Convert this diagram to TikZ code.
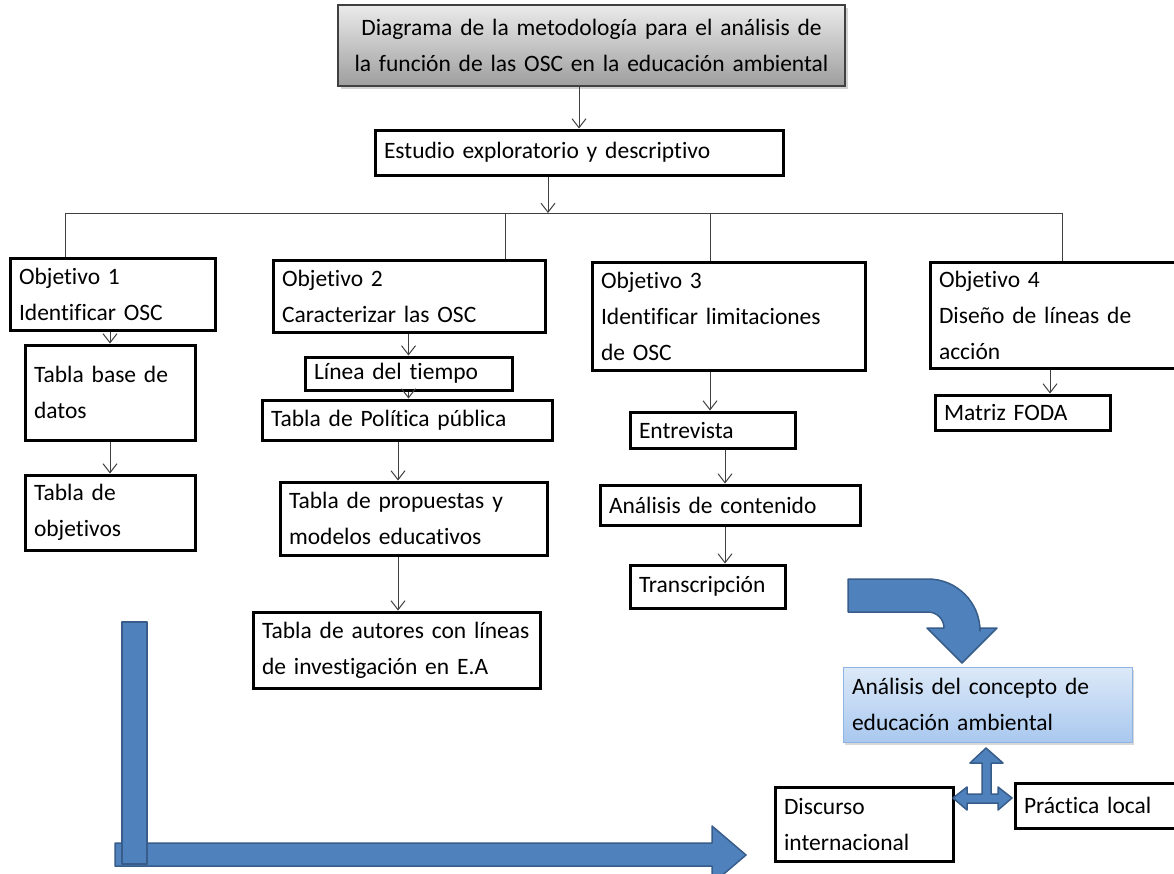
\documentclass[tikz,border=0pt]{standalone}
\usepackage{fontspec}
\setmainfont{Carlito}[Ligatures={NoCommon,NoContextual},RawFeature={-liga;-clig}]
\usetikzlibrary{arrows.meta,shadows,calc}
\definecolor{bluefill}{HTML}{4F81BD}
\definecolor{blueline}{HTML}{385D8A}
\definecolor{lightA}{HTML}{DCE9F8}
\definecolor{lightB}{HTML}{A9C8EF}
\definecolor{lightline}{HTML}{8EB4E3}
\definecolor{connc}{HTML}{404040}
\tikzset{
  box/.style={draw=black,line width=3pt,fill=white,rectangle,inner sep=0pt,align=left,
    font=\fontsize{23.5}{36}\selectfont},
  titlebox/.style={box,line width=1.2pt,draw=black!75,top color=black!8,bottom color=black!38,align=center,
    drop shadow={shadow xshift=3pt,shadow yshift=-3pt,opacity=0.35}},
  conceptbox/.style={box,line width=1pt,draw=lightline,top color=lightA,bottom color=lightB,
    drop shadow={shadow xshift=2pt,shadow yshift=-3pt,opacity=0.3}},
  conn/.style={draw=connc,line width=1pt},
  arr/.style={conn,-{Straight Barb[length=9pt,width=14pt]}},
  bigarrow/.style={fill=bluefill,draw=blueline,line width=1.5pt,line join=round}
}
% \bbox[style]{x1}{y1}{x2}{y2}{name}{text}
\newcommand\bbox[7][box]{%
  \pgfmathsetmacro\bxw{#4-#2}\pgfmathsetmacro\bxh{#5-#3}%
  \pgfmathsetmacro\bxt{#4-#2-18}%
  \pgfmathsetmacro\bxcx{(#2+#4)/2}\pgfmathsetmacro\bxcy{(#3+#5)/2}%
  \node[#1,minimum width=\bxw pt,minimum height=\bxh pt,text width=\bxt pt] (#6) at (\bxcx,\bxcy) {#7};}
\begin{document}
\begin{tikzpicture}[x=1pt,y=-1pt]
\useasboundingbox (0,0) rectangle (1174,873);
\clip (0,0) rectangle (1174,873);
\fill[white] (0,0) rectangle (1174,873);

\bbox[titlebox]{338}{5}{845}{86}{top}{Diagrama de la metodología para el análisis de\\la función de las OSC en la educación ambiental}
\bbox{375}{130}{783}{175}{est}{Estudio exploratorio y descriptivo}

\bbox{10}{258}{215}{330}{o1}{Objetivo 1\\Identificar OSC}
\bbox{273}{260}{545}{332}{o2}{Objetivo 2\\Caracterizar las OSC}
\bbox{592}{262}{865}{370}{o3}{Objetivo 3\\Identificar limitaciones\\de OSC}
\bbox{930}{262}{1190}{368}{o4}{Objetivo 4\\Diseño de líneas de\\acción}

\bbox{25}{345}{195}{440}{tb}{Tabla base de\\datos}
\bbox{25}{475}{195}{550}{tob}{Tabla de\\objetivos}

\bbox{305}{357}{512}{390}{lin}{Línea del tiempo}
\bbox{262}{400}{552}{440}{pol}{Tabla de Política pública}
\bbox{280}{482}{547}{555}{prop}{Tabla de propuestas y\\modelos educativos}
\bbox{253}{612}{540}{688}{aut}{Tabla de autores con líneas\\de investigación en E.A}

\bbox{630}{412}{795}{448}{ent}{Entrevista}
\bbox{600}{485}{860}{525}{ana}{Análisis de contenido}
\bbox{630}{565}{785}{608}{tra}{Transcripción}

\bbox{935}{395}{1110}{430}{foda}{Matriz FODA}

\bbox[conceptbox]{843}{667}{1132}{742}{con}{Análisis del concepto de\\educación ambiental}
\bbox{775}{787}{953}{861}{dis}{Discurso\\internacional}
\bbox{1015}{783}{1190}{828}{pra}{Práctica local}

% connectors
\coordinate (hub) at (548,213);
\coordinate (v1) at (65,213);
\coordinate (v2) at (505,213);
\coordinate (v3) at (710,213);
\coordinate (v4) at (1062,213);
\draw[arr] (top.south -| est.north) -- (est.north);
\draw[arr] (est.south -| hub) -- (hub);
\draw[conn] (v1) -- (v4);
\draw[conn] (v1) -- (v1 |- o1.north);
\draw[conn] (v2) -- (v2 |- o2.north);
\draw[conn] (v3) -- (v3 |- o3.north);
\draw[conn] (v4) -- (v4 |- o4.north);

\draw[arr] (o1.south -| tb.north) -- (tb.north);
\draw[arr] (tb.south) -- (tob.north);

\coordinate (c2) at (398,0);
\draw[arr] (o2.south -| lin.north) -- (lin.north);
\draw[arr] (lin.south) -- (pol.north -| lin.south);
\draw[arr] (pol.south -| c2) -- (prop.north -| c2);
\draw[arr] (prop.south -| c2) -- (aut.north -| c2);

\coordinate (c3) at (725,0);
\draw[arr] (o3.south -| 710,0) -- (ent.north -| 710,0);
\draw[arr] (ent.south -| c3) -- (ana.north -| c3);
\draw[arr] (ana.south -| c3) -- (tra.north -| c3);

\coordinate (c4) at (1050,0);
\draw[arr] (o4.south -| c4) -- (foda.north -| c4);

% bent arrow to concept box
\draw[bigarrow] (848,579) -- (928,579) arc[start angle=270,end angle=360,radius=52]
  -- (980,628) -- (997,628) -- (962,663) -- (927,628) -- (944,628)
  arc[start angle=360,end angle=270,radius=16] -- (848,612) -- cycle;

% L arrow
\draw[bigarrow] (115,843) -- (712,843) -- (712,826) -- (746,855) -- (712,884) -- (712,866) -- (115,866) -- cycle;
\draw[bigarrow] (122,622) rectangle (147,864);

% triple arrow
\draw[bigarrow] (982,763) -- (970,763) -- (986,748) -- (1003,763) -- (991,763) -- (991,794)
  -- (998,794) -- (998,787) -- (1012,798) -- (998,810) -- (998,803) -- (967,803) -- (967,810)
  -- (953,798) -- (967,787) -- (967,794) -- (982,794) -- cycle;
\end{tikzpicture}
\end{document}
